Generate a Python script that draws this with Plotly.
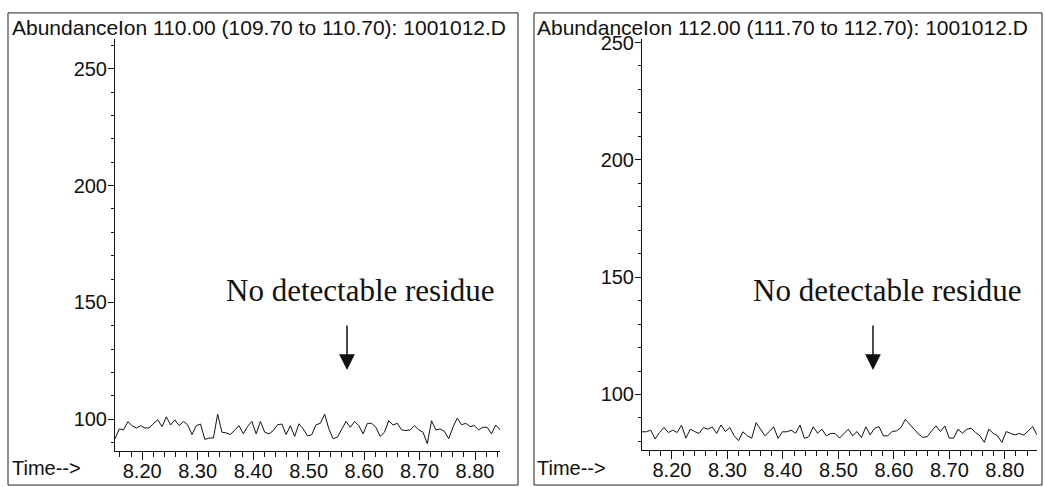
import numpy as np
import plotly.graph_objects as go

# Extracted-ion chromatograms from data file 1001012.D
ion110_abundance = [
    91.6, 95.8, 95.4, 98.9, 97.2, 96.2, 97.2, 96.2, 96.2, 98.2,
    99.7, 96.8, 101.0, 97.5, 99.7, 97.2, 99.0, 97.5, 93.4, 97.2,
    97.9, 91.3, 91.9, 91.9, 102.1, 94.4, 94.1, 93.4, 95.4, 97.2,
    93.7, 96.9, 99.0, 93.7, 99.0, 94.4, 93.7, 95.1, 97.6, 97.9,
    93.4, 97.2, 92.6, 98.0, 95.8, 92.8, 93.3, 97.6, 98.2, 102.1,
    95.8, 91.6, 92.3, 95.8, 99.0, 96.5, 99.0, 97.2, 93.7, 98.2,
    98.2, 96.5, 92.6, 94.4, 99.3, 97.5, 98.2, 95.4, 95.1, 95.4,
    97.2, 95.4, 94.4, 89.5, 99.3, 95.4, 95.8, 94.8, 91.6, 96.5,
    100.4, 97.6, 98.2, 96.8, 97.2, 95.4, 96.5, 96.5, 93.7, 97.5,
    95.4,
]
ion112_abundance = [
    84.1, 84.1, 84.8, 81.0, 83.8, 85.9, 83.8, 84.8, 83.8, 86.9,
    81.4, 85.2, 84.2, 83.4, 85.9, 85.2, 86.2, 83.4, 87.0, 84.2,
    85.9, 82.4, 80.3, 84.1, 82.4, 81.4, 88.0, 85.2, 82.4, 84.2,
    86.2, 81.3, 84.1, 84.1, 84.8, 83.5, 87.0, 81.3, 82.0, 86.2,
    83.5, 85.2, 82.4, 83.4, 83.4, 81.4, 83.4, 85.2, 82.4, 84.2,
    81.6, 86.2, 82.8, 85.6, 86.3, 82.4, 82.4, 84.2, 84.5, 85.9,
    89.4, 87.3, 85.2, 83.1, 81.7, 82.0, 84.5, 86.6, 84.2, 86.6,
    81.4, 81.4, 85.2, 83.5, 85.2, 85.6, 83.8, 82.4, 79.6, 85.2,
    83.5, 82.4, 79.6, 84.2, 83.4, 82.8, 83.4, 82.7, 84.5, 86.3,
    82.8,
]

# Retention-time window of each panel (min)
ion110_time_window = [8.151, 8.845]
ion112_time_window = [8.146, 8.858]

panel_titles = [
    "Ion 110.00 (109.70 to 110.70): 1001012.D",
    "Ion 112.00 (111.70 to 112.70): 1001012.D",
]
note_text = "No detectable residue"

t110 = np.linspace(ion110_time_window[0], ion110_time_window[1], len(ion110_abundance))
t112 = np.linspace(ion112_time_window[0], ion112_time_window[1], len(ion112_abundance))

W, H = 1045, 487


def px(x):
    return x / W


def py(y):
    return 1 - y / H


fig = go.Figure()
fig.add_trace(go.Scatter(x=t110, y=ion110_abundance, mode="lines",
                         line=dict(color="#111", width=1), xaxis="x", yaxis="y",
                         showlegend=False))
fig.add_trace(go.Scatter(x=t112, y=ion112_abundance, mode="lines",
                         line=dict(color="#111", width=1), xaxis="x2", yaxis="y2",
                         showlegend=False))

tick_font = dict(family="Liberation Sans, Arial, sans-serif", size=20, color="#111")

xcommon = dict(showline=True, linecolor="#111", linewidth=1, showgrid=False,
               zeroline=False, ticks="outside", ticklen=8, tickwidth=1,
               tickcolor="#111", dtick=0.1, tick0=8.0, tickformat=".2f",
               tickfont=tick_font, ticklabelstandoff=-6,
               minor=dict(ticks="outside", ticklen=5, dtick=0.02, tick0=8.0,
                          tickcolor="#111", tickwidth=1, showgrid=False))
ycommon = dict(showline=True, linecolor="#111", linewidth=1, showgrid=False,
               zeroline=False, ticks="outside", ticklen=6, tickwidth=1,
               tickcolor="#111", dtick=50, tick0=0, tickfont=tick_font,
               ticklabelstandoff=-3,
               minor=dict(ticks="outside", ticklen=3, dtick=10, tick0=0,
                          tickcolor="#111", tickwidth=1, showgrid=False))

fig.update_layout(
    width=W, height=H,
    margin=dict(l=0, r=0, t=0, b=0),
    paper_bgcolor="white", plot_bgcolor="white",
    xaxis=dict(xcommon, domain=[px(115), px(500)], range=ion110_time_window,
               anchor="y"),
    yaxis=dict(ycommon, domain=[py(450), py(32)], range=[86.52, 262.6],
               anchor="x"),
    xaxis2=dict(xcommon, domain=[px(642), px(1037)], range=ion112_time_window,
                anchor="y2"),
    yaxis2=dict(ycommon, domain=[py(449), py(32)], range=[76.5, 251.3],
                anchor="x2"),
)

# Panel frames
for x0, x1 in [(8, 518), (534, 1042)]:
    fig.add_shape(type="rect", xref="paper", yref="paper",
                  x0=px(x0), x1=px(x1), y0=py(485), y1=py(5),
                  line=dict(color="#222", width=1), fillcolor="rgba(0,0,0,0)")

label_font = dict(family="Liberation Sans, Arial, sans-serif", size=21, color="#111")
annotations = []
for left, title in zip([10, 535], panel_titles):
    annotations.append(dict(text="Abundance", x=px(left), y=py(20), xref="paper",
                            yref="paper", xanchor="left", yanchor="middle",
                            showarrow=False, font=label_font))
    annotations.append(dict(text=title, x=px(left + 106), y=py(20), xref="paper",
                            yref="paper", xanchor="left", yanchor="middle",
                            showarrow=False, font=label_font))
    annotations.append(dict(text="Time-->", x=px(left), y=py(468), xref="paper",
                            yref="paper", xanchor="left", yanchor="middle",
                            showarrow=False, font=tick_font))

note_font = dict(family="Liberation Serif, Times New Roman, serif", size=31, color="#111")
for cx, ax_x in [(360, 347), (887, 873)]:
    annotations.append(dict(text=note_text, x=px(cx), y=py(287), xref="paper",
                            yref="paper", xanchor="center", yanchor="middle",
                            showarrow=False, font=note_font))
    annotations.append(dict(text="", x=px(ax_x), y=py(368), xref="paper",
                            yref="paper", showarrow=True, ax=0, ay=-46,
                            arrowhead=2, arrowsize=2.1, arrowwidth=1.5,
                            arrowcolor="#111"))

fig.update_layout(annotations=annotations)

fig.write_html("out.html")
